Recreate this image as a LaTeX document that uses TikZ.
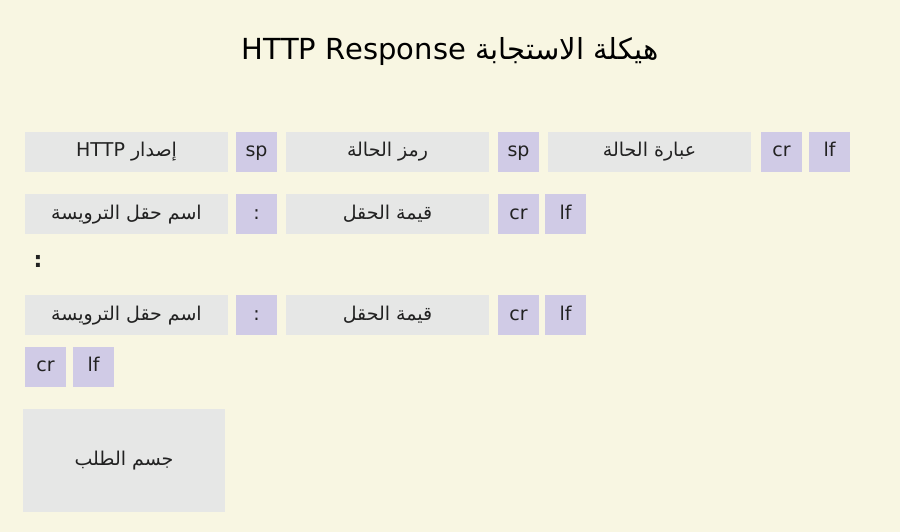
\documentclass[tikz,border=0pt]{standalone}
\usepackage{fontspec}
\setmainfont{DejaVu Sans}
\newfontfamily\arabicfont[Script=Arabic]{DejaVu Sans}
\TeXXeTstate=1
\usetikzlibrary{positioning}
\definecolor{bgcream}{HTML}{F8F6E2}
\definecolor{fieldgray}{HTML}{E6E7E6}
\definecolor{toklilac}{HTML}{D0CBE6}
\definecolor{inkdark}{HTML}{222222}
\newcommand{\artxt}[1]{{\arabicfont\beginR #1\endR}}
\tikzstyle{fld}=[fill=fieldgray,minimum width=203pt,minimum height=40pt,inner sep=0pt,outer sep=0pt,
                text=inkdark,text height=14pt,text depth=4pt,font=\fontsize{19}{22}\selectfont]
\tikzstyle{tok}=[fld,fill=toklilac,minimum width=41pt]
\tikzstyle{ttl}=[text=black,font=\fontsize{29}{34}\selectfont]

\begin{document}
\begin{tikzpicture}[x=1pt,y=-1pt,node distance=9pt]
\path[use as bounding box,fill=bgcream] (0,0) rectangle (900,532);

\node[ttl] (title) at (450,52) {\artxt{هيكلة الاستجابة \beginL HTTP Response\endL}};

% status line
\node[fld] (ver) at (126.5,152) {\artxt{إصدار \beginL HTTP\endL}};
\node[tok,right=8pt of ver] (sp1) {sp};
\node[fld,right=of sp1] (code) {\artxt{رمز الحالة}};
\node[tok,right=of code] (sp2) {sp};
\node[fld,right=of sp2] (phrase) {\artxt{عبارة الحالة}};
\node[tok,right=10pt of phrase] (cr1) {cr};
\node[tok,right=7pt of cr1] (lf1) {lf};

% header lines
\node[fld] (hname1) at (126.5,214) {\artxt{اسم حقل الترويسة}};
\node[tok,right=8pt of hname1] (col1) {:};
\node[fld,right=of col1] (hval1) {\artxt{قيمة الحقل}};
\node[tok,right=of hval1] (cr2) {cr};
\node[tok,right=6pt of cr2] (lf2) {lf};

\node[text=inkdark,font=\fontsize{22}{26}\bfseries] (dots) at (38,261) {:};

\node[fld] (hname2) at (126.5,315) {\artxt{اسم حقل الترويسة}};
\node[tok,right=8pt of hname2] (col2) {:};
\node[fld,right=of col2] (hval2) {\artxt{قيمة الحقل}};
\node[tok,right=of hval2] (cr3) {cr};
\node[tok,right=6pt of cr3] (lf3) {lf};

% empty line + body
\node[tok] (cr4) at (45.5,366.5) {cr};
\node[tok,right=7pt of cr4] (lf4) {lf};
\node[fld,minimum width=202pt,minimum height=103pt] (body) at (124,460.5) {\artxt{جسم الطلب}};
\end{tikzpicture}
\end{document}
